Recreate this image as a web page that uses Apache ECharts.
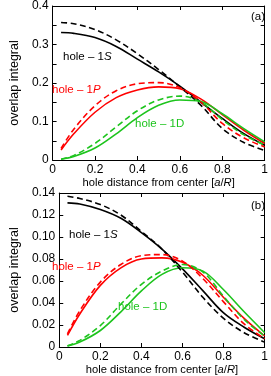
<!DOCTYPE html>
<html><head><meta charset="utf-8">
<script src="https://cdn.jsdelivr.net/npm/echarts@6/dist/echarts.min.js"></script>
<style>html,body{margin:0;padding:0;background:#fff}#c{width:271px;height:376px}</style>
</head><body><div id="c"></div>
<script>
// shared x positions (hole distance a/R)
const xVals = [0.04, 0.1, 0.2, 0.3, 0.4, 0.5, 0.6, 0.7, 0.8, 0.9, 1.0];

// panel (a)
const a_S_solid  = [0.331, 0.329, 0.318, 0.295, 0.262, 0.229, 0.192, 0.150, 0.108, 0.069, 0.038];
const a_S_dashed = [0.357, 0.354, 0.339, 0.312, 0.276, 0.235, 0.190, 0.142, 0.082, 0.046, 0.025];
const a_P_solid  = [0.026, 0.068, 0.124, 0.162, 0.182, 0.190, 0.185, 0.158, 0.118, 0.078, 0.043];
const a_P_dashed = [0.030, 0.080, 0.141, 0.180, 0.198, 0.201, 0.188, 0.150, 0.095, 0.058, 0.034];
const a_D_solid  = [0.002, 0.009, 0.031, 0.068, 0.110, 0.142, 0.156, 0.152, 0.120, 0.082, 0.047];
const a_D_dashed = [0.002, 0.012, 0.043, 0.086, 0.128, 0.156, 0.166, 0.150, 0.105, 0.066, 0.039];

// panel (b)
const b_S_solid  = [0.131, 0.130, 0.125, 0.117, 0.104, 0.089, 0.071, 0.051, 0.031, 0.018, 0.0075];
const b_S_dashed = [0.137, 0.135, 0.1295, 0.120, 0.105, 0.089, 0.068, 0.045, 0.026, 0.013, 0.0045];
const b_P_solid  = [0.0105, 0.030, 0.056, 0.072, 0.080, 0.081, 0.077, 0.065, 0.045, 0.026, 0.010];
const b_P_dashed = [0.012, 0.033, 0.059, 0.075, 0.083, 0.084, 0.078, 0.062, 0.041, 0.021, 0.0075];
const b_D_solid  = [0.001, 0.0045, 0.015, 0.032, 0.051, 0.066, 0.072, 0.069, 0.052, 0.032, 0.013];
const b_D_dashed = [0.001, 0.006, 0.0195, 0.039, 0.057, 0.069, 0.075, 0.068, 0.046, 0.025, 0.010];

// tick values
const xTicks = [0, 0.2, 0.4, 0.6, 0.8, 1];
const aYTicks = [0, 0.1, 0.2, 0.3, 0.4];
const bYTicks = [0, 0.02, 0.04, 0.06, 0.08, 0.10, 0.12, 0.14];

const FONT = 'Liberation Sans';
const BLACK = '#000', RED = '#ff0000', GREEN = '#1dc41d';

const chart = echarts.init(document.getElementById('c'), null, {renderer: 'canvas'});

function zip(ys) { return xVals.map((x, i) => [x, ys[i]]); }

const grids = [
  {left: 37, right: 1, top: 5, height: 155},
  {left: 37, right: 1, top: 193, height: 155}
];

function xAxisBase(gi, pos) {
  const main = pos === 'bottom';
  return {
    gridIndex: gi, type: 'value', position: pos, min: xTicks[0], max: xTicks[xTicks.length - 1], interval: 0.2,
    axisLine: {show: true, onZero: false, lineStyle: {color: '#000', width: 1}},
    axisTick: {show: true, inside: true, length: 4, lineStyle: {color: '#000'}},
    axisLabel: {show: main, color: '#000', fontFamily: FONT, fontSize: 12, margin: 4,
      formatter: v => String(+v.toFixed(1))},
    splitLine: {show: false},
    name: main ? '{n|hole distance from center [}{i|a}{n|/}{i|R}{n|]}' : '',
    nameLocation: 'middle', nameGap: 17,
    nameTextStyle: {rich: {
      n: {fontFamily: FONT, fontSize: 11.2, color: '#000'},
      i: {fontFamily: FONT, fontSize: 11.2, color: '#000', fontStyle: 'italic'}
    }}
  };
}

function yAxisBase(gi, pos, ticks, interval, minor, fmt) {
  const main = pos === 'left';
  return {
    gridIndex: gi, type: 'value', position: pos, min: ticks[0], max: ticks[ticks.length - 1], interval: interval,
    axisLine: {show: true, onZero: false, lineStyle: {color: '#000', width: 1}},
    axisTick: {show: true, inside: true, length: 4, lineStyle: {color: '#000'}},
    minorTick: {show: minor, splitNumber: 2, length: 4, lineStyle: {color: '#000'}},
    axisLabel: {show: main, color: '#000', fontFamily: FONT, fontSize: 12, margin: 4, formatter: fmt},
    splitLine: {show: false},
    name: main ? 'overlap integral' : '',
    nameLocation: 'middle', nameGap: 29,
    nameTextStyle: {fontFamily: FONT, fontSize: 12.5, color: '#000'}
  };
}

const fmtA = v => v === 0 ? '0' : String(+v.toFixed(1));
const fmtB = v => v === 0 ? '0' : v.toFixed(2);

function line(gi, data, color, dashed) {
  return {
    type: 'line', xAxisIndex: gi * 2, yAxisIndex: gi * 2, data: zip(data),
    smooth: 0.35, symbol: 'none', silent: true,
    lineStyle: {color: color, width: 1.6, type: dashed ? [6, 3.5] : 'solid'},
    z: dashed ? 3 : 2
  };
}

const series = [
  line(0, a_S_solid, BLACK, false), line(0, a_S_dashed, BLACK, true),
  line(0, a_P_solid, RED, false), line(0, a_P_dashed, RED, true),
  line(0, a_D_solid, GREEN, false), line(0, a_D_dashed, GREEN, true),
  line(1, b_S_solid, BLACK, false), line(1, b_S_dashed, BLACK, true),
  line(1, b_P_solid, RED, false), line(1, b_P_dashed, RED, true),
  line(1, b_D_solid, GREEN, false), line(1, b_D_dashed, GREEN, true)
];

function label(x, y, color, main, sub, italic) {
  return {
    type: 'text', left: x, top: y, z: 10,
    style: {
      text: '{n|' + main + '}{' + (italic ? 'i' : 'n') + '|' + sub + '}',
      rich: {
        n: {fontFamily: FONT, fontSize: 11.5, fill: color},
        i: {fontFamily: FONT, fontSize: 11.5, fill: color, fontStyle: 'italic'}
      }
    }
  };
}

chart.setOption({
  animation: false,
  grid: grids,
  xAxis: [xAxisBase(0, 'bottom'), xAxisBase(0, 'top'), xAxisBase(1, 'bottom'), xAxisBase(1, 'top')],
  yAxis: [
    yAxisBase(0, 'left', aYTicks, 0.1, true, fmtA), yAxisBase(0, 'right', aYTicks, 0.1, true, fmtA),
    yAxisBase(1, 'left', bYTicks, 0.02, false, fmtB), yAxisBase(1, 'right', bYTicks, 0.02, false, fmtB)
  ],
  series: series,
  graphic: [
    label(63, 51, BLACK, 'hole – 1', 'S', true),
    label(52, 84, RED, 'hole – 1', 'P', true),
    label(135, 118, GREEN, 'hole – 1', 'D', false),
    label(251, 11, BLACK, '(a)', '', false),
    label(69, 229, BLACK, 'hole – 1', 'S', true),
    label(52, 261, RED, 'hole – 1', 'P', true),
    label(118, 301, GREEN, 'hole – 1', 'D', false),
    label(251, 200, BLACK, '(b)', '', false)
  ]
});
</script>
</body></html>
